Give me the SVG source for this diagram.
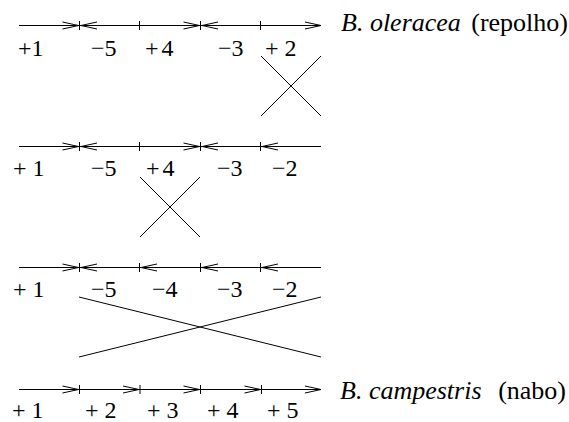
<svg xmlns="http://www.w3.org/2000/svg" width="569" height="422" viewBox="0 0 569 422">
<style>
.ln{stroke:#000;stroke-width:1;fill:none}
.n{font-family:"Liberation Serif","Times New Roman",serif;font-size:24px;fill:#000}
.lb{font-family:"Liberation Serif","Times New Roman",serif;font-size:26px;fill:#000}
.it{font-style:italic}
</style>
<defs>
<path id="ar" class="ln" d="M-16,-3.5 L0,0 L-16,3.5"/>
<path id="al" class="ln" d="M16,-3.5 L0,0 L16,3.5"/>
<path id="tk" class="ln" d="M0,-4.5 V4.5"/>
</defs>
<rect width="569" height="422" fill="#fff"/>
<g id="row1">
<path class="ln" d="M19,25.5 H321"/>
<use href="#ar" x="78.5" y="25.5"/><use href="#tk" x="79.5" y="25.5"/><use href="#al" x="81" y="25.5"/>
<use href="#tk" x="139.5" y="25.5"/>
<use href="#ar" x="199.5" y="25.5"/><use href="#tk" x="200.5" y="25.5"/><use href="#al" x="202" y="25.5"/>
<use href="#tk" x="260.5" y="25.5"/>
<use href="#ar" x="321" y="25.5"/>
<text class="n" y="56"><tspan x="18">+1</tspan><tspan x="91">−5</tspan><tspan x="145">+<tspan dx="3">4</tspan></tspan><tspan x="218">−3</tspan><tspan x="265">+ 2</tspan></text>
<text class="lb" y="31"><tspan x="341" class="it">B. oleracea</tspan></text>
<text class="lb" y="31" x="568" text-anchor="end">(repolho)</text>
</g>
<g id="row2">
<path class="ln" d="M19,146.5 H321"/>
<use href="#ar" x="78.5" y="146.5"/><use href="#tk" x="79.5" y="146.5"/><use href="#al" x="81" y="146.5"/>
<use href="#tk" x="139.5" y="146.5"/>
<use href="#ar" x="199.5" y="146.5"/><use href="#tk" x="200.5" y="146.5"/><use href="#al" x="202" y="146.5"/>
<use href="#tk" x="260.5" y="146.5"/><use href="#al" x="262" y="146.5"/>
<text class="n" y="176"><tspan x="13">+ 1</tspan><tspan x="91">−5</tspan><tspan x="146">+<tspan dx="3">4</tspan></tspan><tspan x="217">−3</tspan><tspan x="272">−2</tspan></text>
</g>
<g id="row3">
<path class="ln" d="M19,267.5 H321"/>
<use href="#ar" x="78.5" y="267.5"/><use href="#tk" x="79.5" y="267.5"/><use href="#al" x="81" y="267.5"/>
<use href="#tk" x="139.5" y="267.5"/><use href="#al" x="141" y="267.5"/>
<use href="#tk" x="200.5" y="267.5"/><use href="#al" x="202" y="267.5"/>
<use href="#tk" x="260.5" y="267.5"/><use href="#al" x="262" y="267.5"/>
<text class="n" y="297"><tspan x="13">+ 1</tspan><tspan x="91">−5</tspan><tspan x="152">−4</tspan><tspan x="217">−3</tspan><tspan x="272">−2</tspan></text>
</g>
<g id="row4">
<path class="ln" d="M19,389.5 H321"/>
<use href="#ar" x="78.5" y="389.5"/><use href="#tk" x="79.5" y="389.5"/>
<use href="#ar" x="139" y="389.5"/><use href="#tk" x="140" y="389.5"/>
<use href="#ar" x="199.5" y="389.5"/><use href="#tk" x="200.5" y="389.5"/>
<use href="#ar" x="260.5" y="389.5"/><use href="#tk" x="261.5" y="389.5"/>
<use href="#ar" x="321" y="389.5"/>
<text class="n" y="418"><tspan x="12">+ 1</tspan><tspan x="85">+ 2</tspan><tspan x="147">+ 3</tspan><tspan x="207">+ 4</tspan><tspan x="267">+ 5</tspan></text>
<text class="lb" y="399"><tspan x="340" class="it">B. campestris</tspan></text>
<text class="lb" y="399" x="566" text-anchor="end">(nabo)</text>
</g>
<g id="connectors">
<path class="ln" d="M261,56 L321,116 M321,56 L261,116"/>
<path class="ln" d="M140,177 L200,237 M200,177 L140,237"/>
<path class="ln" d="M79,297 L321,357 M79,357 L321,297"/>
</g>
</svg>
